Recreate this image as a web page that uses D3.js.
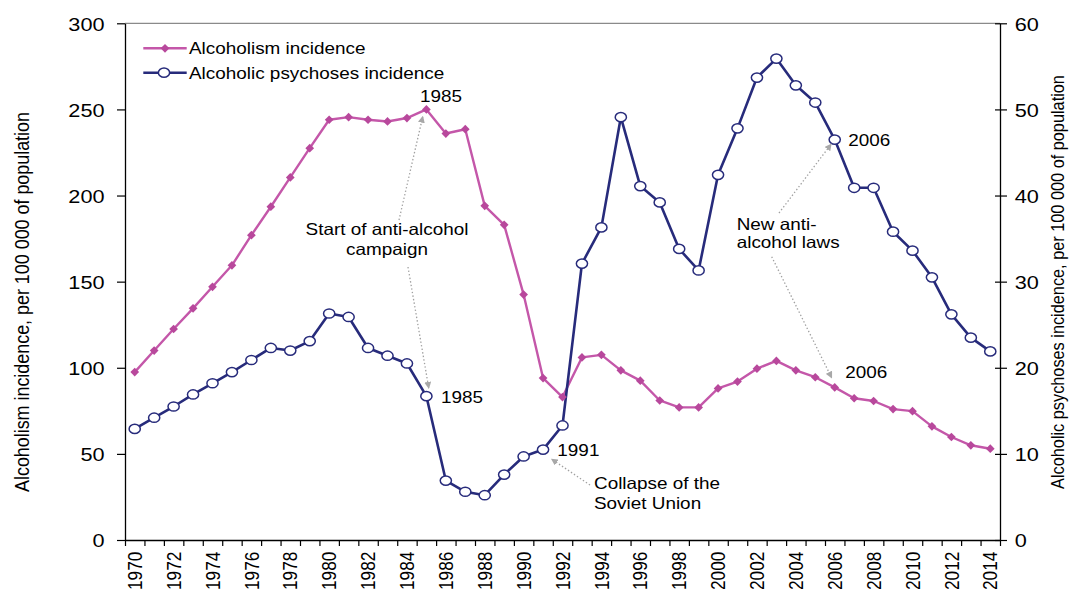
<!DOCTYPE html>
<html><head><meta charset="utf-8">
<script src="https://cdn.jsdelivr.net/npm/d3@7"></script>
<style>
html,body{margin:0;padding:0;background:#fff;}
svg{display:block;font-family:"Liberation Sans",Arial,Helvetica,sans-serif;}
</style></head>
<body>
<svg id="chart" width="1070" height="589"></svg>
<script>
const years = d3.range(1970, 2015);
const alcoholism = [97.5,110,122.5,134.5,147,159.5,177,193.5,210.5,227.5,
  244,245.5,244,243,245,250,236,238.5,194,183,
  142.5,94,83,106,107.5,98.5,92.5,81,77,77,
  88,92,99.5,104,98.5,94.5,88.6,82.3,80.7,76,
  74.8,66,59.8,55,53];
const psychoses = [12.9,14.2,15.5,16.9,18.2,19.5,20.9,22.3,22.0,23.1,
  26.3,25.9,22.3,21.4,20.5,16.7,6.9,5.6,5.2,7.6,
  9.7,10.5,13.3,32.1,36.3,49.1,41.1,39.2,33.8,31.3,
  42.4,47.8,53.7,55.9,52.8,50.8,46.5,40.9,40.9,35.8,
  33.6,30.5,26.2,23.5,21.9];
const leftTicks = [0,50,100,150,200,250,300];
const rightTicks = [0,10,20,30,40,50,60];
const yearLabels = years.filter(y => y % 2 === 0);
const seriesNames = ["Alcoholism incidence","Alcoholic psychoses incidence"];
const leftTitle = "Alcoholism incidence, per 100 000 of population";
const rightTitle = "Alcoholic psychoses incidence, per 100 000 of population";

const PINK = "#C457A9", PINK_M = "#B8489C", NAVY = "#272B7B", GREY = "#9a9a9a";
const SX = 1.16;
const L = 125, R = 1000, T = 23.3, B = 540;

const svg = d3.select("#chart");
const xB = d3.scaleBand().domain(years).range([L, R]).padding(0);
const xEdge = d3.scaleLinear().domain([1970, 2015]).range([L, R]);
const yL = d3.scaleLinear().domain([0, 300]).range([B, T]);
const yR = d3.scaleLinear().domain([0, 60]).range([B, T]);
const cx = y => xB(y) + xB.bandwidth() / 2;

// defs arrow
svg.append("defs").append("marker").attr("id","arr").attr("viewBox","0 0 10 10")
  .attr("refX",9).attr("refY",5).attr("markerWidth",7).attr("markerHeight",7)
  .attr("orient","auto-start-reverse").attr("markerUnits","userSpaceOnUse")
  .append("path").attr("d","M0,0 L10,5 L0,10 Z").attr("fill","#a8a8a8");

// top border
svg.append("line").attr("x1",L).attr("x2",R).attr("y1",T).attr("y2",T)
  .attr("stroke","#8a8a8a").attr("stroke-width",1.2);

// left axis
const gL = svg.append("g").attr("transform",`translate(${L},0)`)
  .call(d3.axisLeft(yL).tickValues(leftTicks).tickSize(8).tickSizeOuter(0));
gL.select(".domain").attr("stroke","#000").attr("stroke-width",1.3);
gL.selectAll(".tick line").attr("stroke","#000").attr("stroke-width",1.2);
gL.selectAll(".tick text").attr("x", -20.5/SX).attr("dy","0.36em")
  .attr("transform",`scale(${SX},1)`).style("font-size","18.7px").attr("fill","#000")
  .style("font-family","'Liberation Sans',Arial,sans-serif");

// right axis
const gR = svg.append("g").attr("transform",`translate(${R},0)`)
  .call(d3.axisRight(yR).tickValues(rightTicks).tickSize(7).tickSizeOuter(0));
gR.select(".domain").attr("stroke","#000").attr("stroke-width",1.3);
gR.selectAll(".tick line").attr("x1",-5).attr("stroke","#000").attr("stroke-width",1.2);
gR.selectAll(".tick text").attr("x", 14.8/SX).attr("dy","0.36em")
  .attr("transform",`scale(${SX},1)`).style("font-size","18.7px").attr("fill","#000")
  .style("font-family","'Liberation Sans',Arial,sans-serif");

// bottom boundary ticks
const gE = svg.append("g").attr("transform",`translate(0,${B})`)
  .call(d3.axisBottom(xEdge).tickValues(d3.range(1970, 2016)).tickFormat("").tickSize(6).tickSizeOuter(0));
gE.select(".domain").attr("stroke","#000").attr("stroke-width",1.3);
gE.selectAll(".tick line").attr("stroke","#000").attr("stroke-width",1.2);

// bottom labels
const gX = svg.append("g").attr("transform",`translate(0,${B})`)
  .call(d3.axisBottom(xB).tickValues(yearLabels).tickSize(0));
gX.select(".domain").remove();
gX.selectAll(".tick text").attr("x",0).attr("y",0).attr("dy","0.36em")
  .attr("text-anchor","end")
  .attr("transform",`translate(0,11.7) scale(${SX},1) rotate(-90)`)
  .style("font-size","17.2px").attr("fill","#000")
  .style("font-family","'Liberation Sans',Arial,sans-serif");

// axis titles
function rotTitle(x, y, str, size) {
  svg.append("text").attr("transform",`translate(${x},${y}) scale(${SX},1) rotate(-90)`)
    .attr("text-anchor","middle").attr("dy","0.36em").style("font-size",size+"px")
    .attr("fill","#000").text(str);
}
rotTitle(21.7, 302, leftTitle, 17.9);
rotTitle(1057, 282, rightTitle, 16.3);

// lines
const lineA = d3.line().x((d,i)=>cx(years[i])).y(d=>yL(d));
const lineP = d3.line().x((d,i)=>cx(years[i])).y(d=>yR(d));
svg.append("path").datum(alcoholism).attr("d",lineA).attr("fill","none")
  .attr("stroke",PINK).attr("stroke-width",2.4).attr("stroke-linejoin","round");
svg.append("path").datum(psychoses).attr("d",lineP).attr("fill","none")
  .attr("stroke",NAVY).attr("stroke-width",2.6).attr("stroke-linejoin","round");

const diamond = d3.symbol().type(d3.symbolSquare).size(38);
svg.append("g").selectAll("path").data(alcoholism).join("path")
  .attr("d", diamond)
  .attr("transform",(d,i)=>`translate(${cx(years[i])},${yL(d)}) rotate(45)`)
  .attr("fill",PINK_M);
svg.append("g").selectAll("ellipse").data(psychoses).join("ellipse")
  .attr("cx",(d,i)=>cx(years[i])).attr("cy",d=>yR(d)).attr("rx",5.6).attr("ry",4.6)
  .attr("fill","#fff").attr("stroke",NAVY).attr("stroke-width",1.5);

// legend
const leg = svg.append("g");
[[PINK, "a"], [NAVY, "p"]].forEach(([c, k], i) => {
  const y = 48.3 + i * 24.4;
  leg.append("line").attr("x1",143.3).attr("x2",186.7).attr("y1",y).attr("y2",y)
    .attr("stroke",c).attr("stroke-width",2.4);
  if (k === "a") {
    leg.append("path").attr("d",diamond).attr("transform",`translate(165,${y}) rotate(45)`).attr("fill",PINK_M);
  } else {
    leg.append("ellipse").attr("cx",164).attr("cy",y).attr("rx",5.6).attr("ry",4.6)
      .attr("fill","#fff").attr("stroke",NAVY).attr("stroke-width",1.5);
  }
  leg.append("text").attr("transform",`translate(189,${y}) scale(${SX},1)`)
    .attr("dy","0.36em").style("font-size","16.3px").attr("fill","#000").text(seriesNames[i]);
});

// annotations
function note(x, y, str, anchor) {
  svg.append("text").attr("transform",`translate(${x},${y}) scale(${SX},1)`)
    .attr("text-anchor",anchor || "start").style("font-size","16.3px").attr("fill","#000").text(str);
}
function arrow(x1, y1, x2, y2) {
  svg.append("line").attr("x1",x1).attr("y1",y1).attr("x2",x2).attr("y2",y2)
    .attr("stroke","#a0a0a0").attr("stroke-width",1.3).attr("stroke-dasharray","1.4,2.2")
    .attr("marker-end","url(#arr)");
}
const pA85 = [cx(1985), yL(alcoholism[15])];
const pP85 = [cx(1985), yR(psychoses[15])];
const pP91 = [cx(1991), yR(psychoses[21])];
const pP06 = [cx(2006), yR(psychoses[36])];
const pA06 = [cx(2006), yL(alcoholism[36])];

note(pA85[0] - 6.5, pA85[1] - 7.5, "1985");
note(387, 235, "Start of anti-alcohol", "middle");
note(387, 255, "campaign", "middle");
arrow(399, 220, pA85[0] - 3.6, pA85[1] + 7);
arrow(408, 267, pP85[0] + 2.4, pP85[1] - 8);
note(pP85[0] + 14.5, pP85[1] + 6.5, "1985");

note(pP91[0] + 14.3, pP91[1] + 6.5, "1991");
arrow(590, 485, pP91[0] + 8.5, pP91[1] + 9.5);
note(594, 489, "Collapse of the");
note(594, 509, "Soviet Union");

note(pP06[0] + 13.5, pP06[1] + 6, "2006");
note(736.7, 230, "New anti-");
note(736.7, 248.3, "alcohol laws");
arrow(779, 213, pP06[0] - 3.5, pP06[1] + 4.5);
arrow(771.7, 256.7, pA06[0] - 3, pA06[1] - 9.5);
note(pA06[0] + 10.5, pA06[1] - 9.3, "2006");
</script>
</body></html>
